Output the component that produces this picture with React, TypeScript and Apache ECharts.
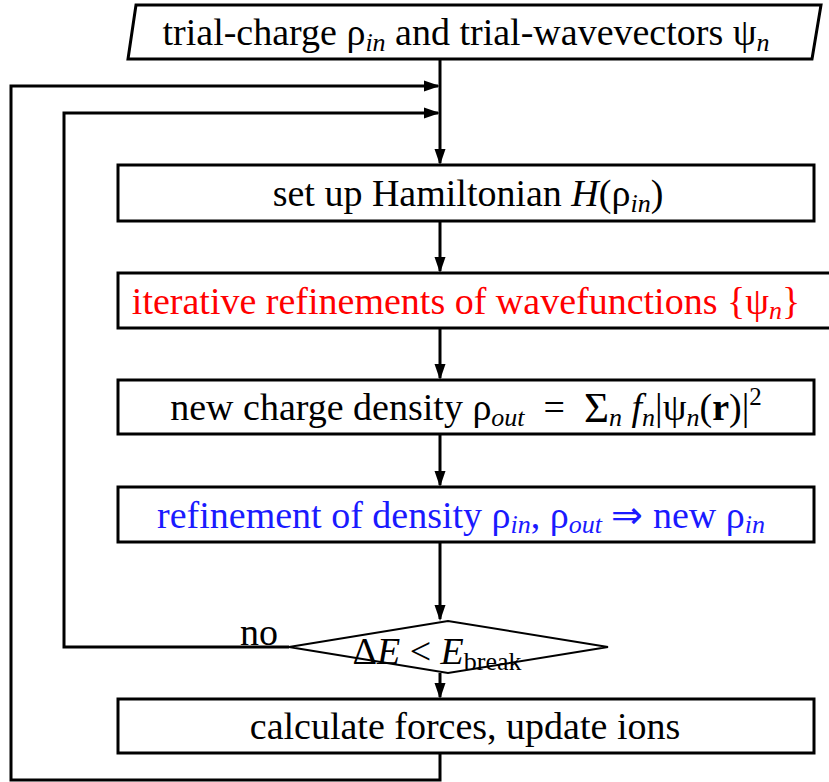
import React, { useEffect, useRef } from "react";
import * as echarts from "echarts";

// Flowchart content (labels, as rich-text strings)
const startLabel = "{t|trial-charge }{g|ρ}{s|in}{t| and trial-wavevectors }{g|ψ}{s|n}";
const stepLabels = [
  "{t|set up Hamiltonian }{i|H}{t|(}{g|ρ}{s|in}{t|)}",
  "{t|iterative refinements of wavefunctions {}{g|ψ}{s|n}}",
  "{t|new charge density }{g|ρ}{s|out}{t|  =  }{L|Σ}{s|n}{t| }{i|f}{s|n}{t||}{g|ψ}{s|n}{t|(}{b|r}{t|)|}{p|2}",
  "{t|refinement of density }{g|ρ}{s|in}{t|, }{g|ρ}{s|out}{t| ⇒ new }{g|ρ}{s|in}",
  "{t|calculate forces, update ions}",
];
const stepColors = ["#000000", "#ff0000", "#000000", "#1a1aff", "#000000"];
const decisionLabel = "{t|Δ}{i|E}{t| < }{i|E}{sb|break}";
const noLabel = "no";

const FONT = "Liberation Serif";
const FS = 38;
const SFS = 26;

function richFor(color: string) {
  return {
    t: { fontFamily: FONT, fontSize: FS, fill: color, lineHeight: 46 },
    g: { fontFamily: FONT, fontSize: FS, fill: color, lineHeight: 46 },
    L: { fontFamily: FONT, fontSize: 43, fill: color, lineHeight: 46 },
    i: { fontFamily: FONT, fontSize: FS, fill: color, fontStyle: "italic", lineHeight: 46 },
    b: { fontFamily: FONT, fontSize: FS, fill: color, fontWeight: "bold", lineHeight: 46 },
    s: { fontFamily: FONT, fontSize: SFS, fill: color, fontStyle: "italic", lineHeight: 26, verticalAlign: "bottom" },
    sb: { fontFamily: FONT, fontSize: SFS, fill: color, lineHeight: 26, verticalAlign: "bottom" },
    p: { fontFamily: FONT, fontSize: 25, fill: color, lineHeight: 25, verticalAlign: "top" },
  };
}

function richText(text: string, color: string, x: number, y: number) {
  return {
    type: "text",
    x,
    y,
    style: {
      text,
      rich: richFor(color),
      fill: color,
      fontFamily: FONT,
      fontSize: FS,
      lineHeight: 46,
      align: "center",
      verticalAlign: "middle",
    },
    z: 20,
  };
}

export default function App() {
  const ref = useRef<HTMLDivElement>(null);
  useEffect(() => {
    if (!ref.current) return;
    const chart = echarts.init(ref.current, null, { renderer: "svg" });

    const MX = 440; // main flow x
    const boxL = 118;
    const boxR = 814;
    const boxes = [
      { y1: 165, y2: 221, r: boxR },
      { y1: 273, y2: 328, r: 845 },
      { y1: 380, y2: 434, r: boxR },
      { y1: 487, y2: 542, r: boxR },
      { y1: 699, y2: 753, r: boxR },
    ];
    const textX = [468, 466, 466, 461, 465];
    const lw = 3;
    const stroke = "#000";
    const elements: any[] = [];

    const arrowDown = (x: number, y: number) => ({
      type: "polygon",
      shape: { points: [[x - 5.5, y - 16], [x + 5.5, y - 16], [x, y]] },
      style: { fill: stroke },
      z: 10,
    });
    const arrowRight = (x: number, y: number) => ({
      type: "polygon",
      shape: { points: [[x - 16, y - 5.5], [x - 16, y + 5.5], [x, y]] },
      style: { fill: stroke },
      z: 10,
    });
    const line = (pts: number[][], w = lw) => ({
      type: "polyline",
      shape: { points: pts },
      style: { stroke, lineWidth: w, fill: null },
      z: 5,
    });

    // start parallelogram
    elements.push({
      type: "polygon",
      shape: { points: [[128, 59], [136, 5], [821, 5], [812, 59]] },
      style: { fill: "#fff", stroke, lineWidth: lw },
      z: 6,
    });
    elements.push(richText(startLabel, "#000", 466, 32));

    // main connectors
    elements.push(line([[MX, 59], [MX, boxes[0].y1 - 2]]));
    elements.push(arrowDown(MX, boxes[0].y1));
    for (let k = 0; k < 3; k++) {
      elements.push(line([[MX, boxes[k].y2], [MX, boxes[k + 1].y1 - 2]]));
      elements.push(arrowDown(MX, boxes[k + 1].y1));
    }
    // diamond
    const dTop = 621, dBot = 673, dL = 289, dR = 608, dCx = 448, dCy = 647;
    elements.push(line([[MX, boxes[3].y2], [MX, dTop - 2]]));
    elements.push(arrowDown(MX, dTop));
    elements.push(line([[MX, dBot], [MX, boxes[4].y1 - 2]]));
    elements.push(arrowDown(MX, boxes[4].y1));
    elements.push({
      type: "polygon",
      shape: { points: [[dL, dCy], [dCx, dTop], [dR, dCy], [dCx, dBot]] },
      style: { fill: "#fff", stroke, lineWidth: 2 },
      z: 6,
    });
    elements.push(richText(decisionLabel, "#000", 437, 651));
    // inner loop (no)
    elements.push(line([[dL, dCy], [64, dCy], [64, 113], [MX - 2, 113]]));
    elements.push(arrowRight(MX, 113));
    elements.push({
      type: "text",
      x: 259,
      y: 632,
      style: { text: noLabel, fontFamily: FONT, fontSize: FS, fill: "#000", align: "center", verticalAlign: "middle" },
      z: 20,
    });
    // outer loop
    elements.push(line([[MX, boxes[4].y2], [MX, 780], [11, 780], [11, 86], [MX - 2, 86]]));
    elements.push(arrowRight(MX, 86));

    // boxes
    boxes.forEach((b, k) => {
      elements.push({
        type: "rect",
        shape: { x: boxL, y: b.y1, width: b.r - boxL, height: b.y2 - b.y1 },
        style: { fill: "#fff", stroke, lineWidth: lw },
        z: 6,
      });
      elements.push(richText(stepLabels[k], stepColors[k], textX[k], (b.y1 + b.y2) / 2));
    });

    chart.setOption({
      animation: false,
      backgroundColor: "#ffffff",
      graphic: { elements },
    });
    return () => chart.dispose();
  }, []);
  return (
    <div
      ref={ref}
      style={{ position: "fixed", left: 0, top: 0, width: 829, height: 782 }}
    />
  );
}
